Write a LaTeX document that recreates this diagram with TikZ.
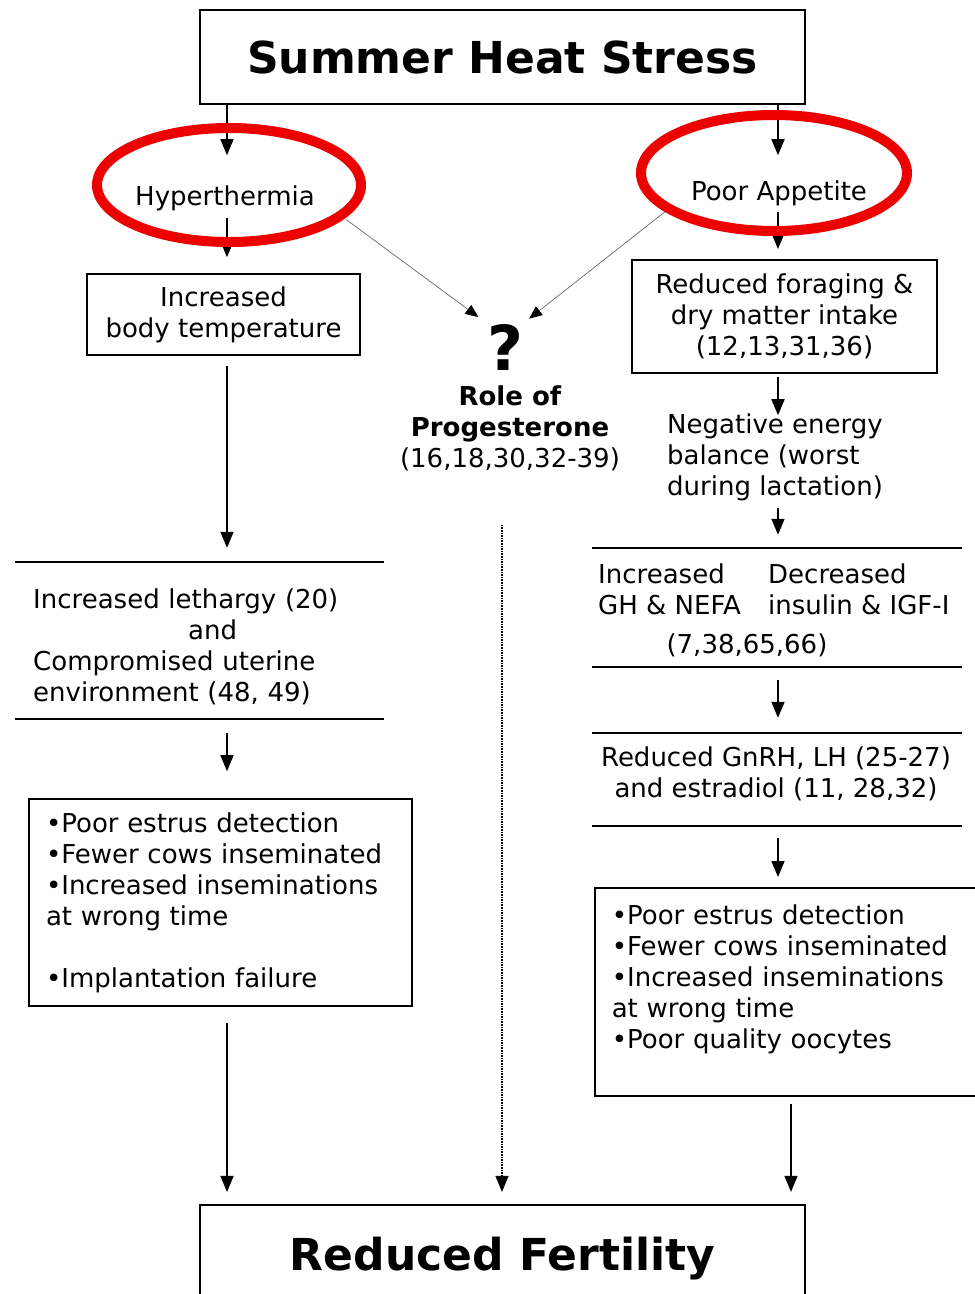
\documentclass[tikz,border=0pt]{standalone}
\usepackage{fontspec}
\setmainfont{DejaVu Sans}
\usetikzlibrary{
  arrows.meta
}
\definecolor{ringred}{RGB}{236,0,0}

\begin{document}
\begin{tikzpicture}[
  x=1pt,
  y=-1pt,
  every node/.style={
    font=\fontsize{26}{31}\selectfont
  },
  plain/.style={
    draw=none,
    fill=none,
    inner sep=2pt
  },
  box/.style={
    draw,
    rectangle,
    line width=1.6pt,
    inner sep=0pt
  },
  title/.style={
    draw,
    rectangle,
    line width=2.2pt,
    minimum width=605pt,
    font=\fontsize{44}{53}\selectfont\bfseries
  },
  list/.style={
    box,
    text width=349pt,
    inner xsep=17pt,
    align=left
  },
  section/.style={
    draw=none,
    minimum width=370pt,
    inner sep=0pt
  },
  rule/.style={
    line width=1.6pt
  },
  arr/.style={
    ->,
    line width=1.6pt
  },
  side/.style={
    -{Triangle[length=13pt,width=11pt,black]},
    line width=0.7pt,
    black!60
  },
  ring/.style={
    draw=ringred,
    line width=10pt
  },
  >={Triangle[length=16pt,width=13pt]}
]

\useasboundingbox (0,0) rectangle (975,1294);
\clip (0,0) rectangle (975,1294);

% Columns
\coordinate (coll) at (227,0);
\coordinate (colm) at (502,0);
\coordinate (colr) at (778,0);
\coordinate (colb) at (791,0);

% Top and bottom
\node[title, minimum height=94pt] (heat) at (502.5,57) {Summer Heat Stress};
\node[title, minimum height=107pt] (fert) at (502.5,1258.5) {Reduced Fertility};

% Left column
\node[plain] (hyper) at (225,198) {Hyperthermia};
\node[box, minimum width=273pt, minimum height=81pt, align=center] (bodytemp)
  at (223.5,314.5) {Increased\\body temperature};
\node[section, minimum width=369pt, minimum height=157pt] (secl) at (199.5,640.5) {};
\node[plain, anchor=west, text width=333pt, inner xsep=18pt, align=left] (leth)
  at (15,646.5) {Increased lethargy (20)\\\hspace*{155pt}and\\Compromised uterine\\environment (48, 49)};
\node[list, minimum width=383pt, minimum height=207pt] (listl) at (220.5,902.5)
  {•Poor estrus detection\\•Fewer cows inseminated\\•Increased inseminations\\at wrong time\\[31pt]•Implantation failure};

% Middle
\node[plain, font=\fontsize{62}{62}\selectfont\bfseries] (quest) at (505,347) {?};
\node[plain, align=center] (role) at (510,428)
  {\textbf{Role of}\\\textbf{Progesterone}\\(16,18,30,32-39)};

% Right column
\node[plain] (appetite) at (779,193) {Poor Appetite};
\node[box, line width=2pt, minimum width=305pt, minimum height=113pt, align=center] (forage)
  at (784.5,316.5) {Reduced foraging \&\\dry matter intake\\(12,13,31,36)};
\node[plain, anchor=west, align=left] (energy) at (665,457)
  {Negative energy\\balance (worst\\during lactation)};
\node[section, minimum height=119pt] (secr) at (777,607.5) {};
\node[plain, anchor=west, align=left] (ghnefa) at (596,589) {Increased\\GH \& NEFA};
\node[plain, anchor=west, align=left] (insulin) at (766,589) {Decreased\\insulin \& IGF-I};
\node[plain] (refs) at (747,645) {(7,38,65,66)};
\node[section, minimum height=93pt] (secg) at (777,779.5) {};
\node[plain, align=center] (gnrh) at (776,773.5)
  {Reduced GnRH, LH (25-27)\\and estradiol (11, 28,32)};
\node[list, anchor=north west, minimum width=395pt, minimum height=208pt, text width=361pt] (listr)
  at (594,887) {•Poor estrus detection\\•Fewer cows inseminated\\•Increased inseminations\\at wrong time\\•Poor quality oocytes\\\mbox{}};

% Rules
\draw[rule] (secl.north west) -- (secl.north east);
\draw[rule] (secl.south west) -- (secl.south east);
\draw[rule] (secr.north west) -- (secr.north east);
\draw[rule] (secr.south west) -- (secr.south east);
\draw[rule] (secg.north west) -- (secg.north east);
\draw[rule] (secg.south west) -- (secg.south east);

% Arrows left
\draw[arr, shorten >=28pt] (heat.south -| coll) -- (hyper.north -| coll);
\draw[arr, shorten <=5pt, shorten >=16pt] (hyper.south -| coll) -- (bodytemp.north -| coll);
\draw[arr, shorten <=10pt, shorten >=14pt] (bodytemp.south -| coll) -- (secl.north -| coll);
\draw[arr, shorten <=14pt, shorten >=27pt] (secl.south -| coll) -- (listl.north -| coll);
\draw[arr, shorten <=16pt, shorten >=12pt] (listl.south -| coll) -- (fert.north -| coll);

% Arrows right
\draw[arr, shorten >=23pt] (heat.south -| colr) -- (appetite.north -| colr);
\draw[arr, shorten <=4pt, shorten >=10pt] (appetite.south -| colr) -- (forage.north -| colr);
\draw[arr, shorten <=3pt, shorten >=-4pt] (forage.south -| colr) -- (energy.north -| colr);
\draw[arr, shorten <=5pt, shorten >=13pt] (energy.south -| colr) -- (secr.north -| colr);
\draw[arr, shorten <=13pt, shorten >=15pt] (secr.south -| colr) -- (secg.north -| colr);
\draw[arr, shorten <=12pt, shorten >=10pt] (secg.south -| colr) -- (listr.north -| colr);
\draw[arr, shorten <=7pt, shorten >=12pt] (listr.south -| colb) -- (fert.north -| colb);

% Arrows middle
\draw[side, shorten <=36pt, shorten >=8pt] (hyper.east) -- (quest.north west);
\draw[side, shorten <=23pt, shorten >=5pt] (appetite.west) -- (quest.north east);
\draw[arr, densely dotted, line width=1.2pt, shorten <=52pt, shorten >=12pt]
  (role.south -| colm) -- (fert.north -| colm);

% Rings
\draw[ring] (229,185) ellipse [x radius=132, y radius=57];
\draw[ring] (774,173) ellipse [x radius=133, y radius=58];

\end{tikzpicture}
\end{document}
